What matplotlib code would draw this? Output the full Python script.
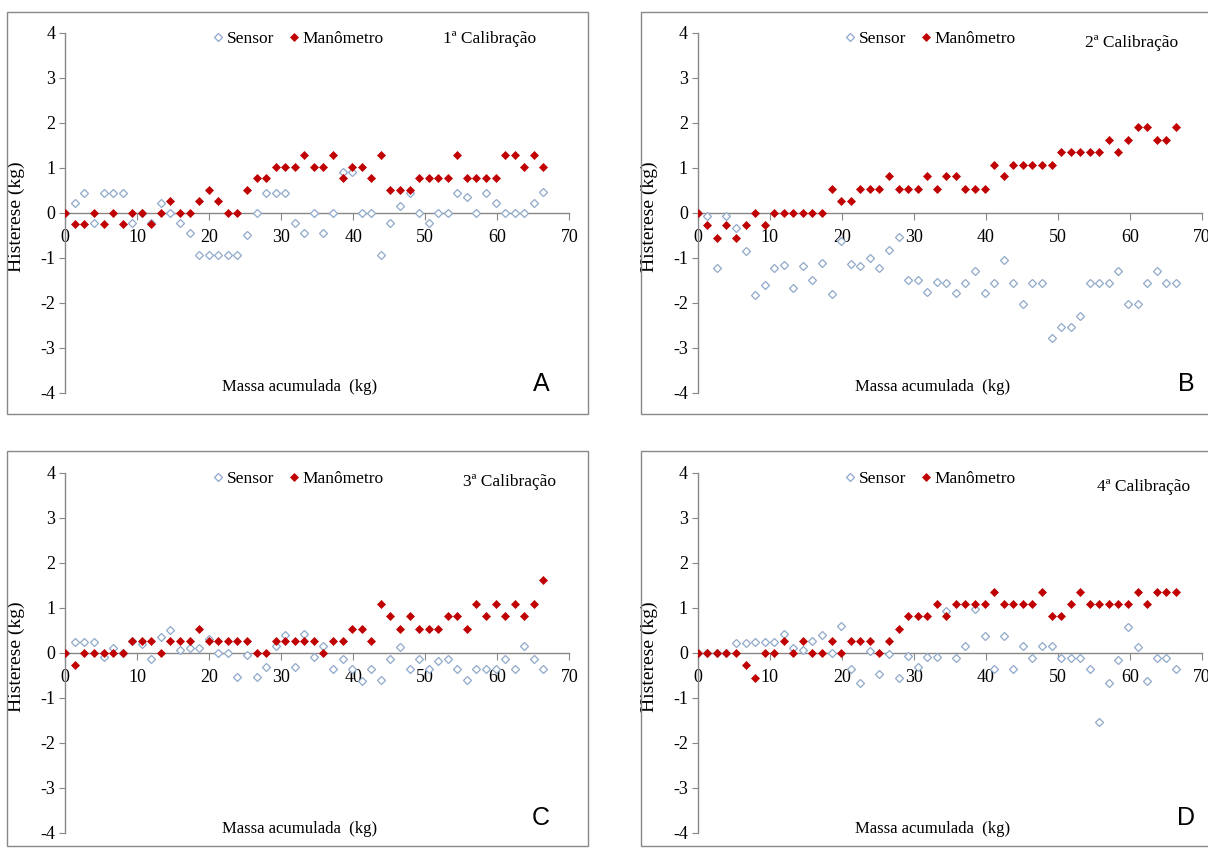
import numpy as np
import matplotlib.pyplot as plt
from matplotlib.patches import Rectangle

# massa acumulada (kg), common to all four calibrations
massa = [0.00, 1.33, 2.66, 3.98, 5.31, 6.64, 7.97, 9.30, 10.62, 11.95,
         13.28, 14.61, 15.94, 17.26, 18.59, 19.92, 21.25, 22.58, 23.90, 25.23,
         26.56, 27.89, 29.22, 30.54, 31.87, 33.20, 34.53, 35.86, 37.18, 38.51,
         39.84, 41.17, 42.50, 43.82, 45.15, 46.48, 47.81, 49.14, 50.46, 51.79,
         53.12, 54.45, 55.78, 57.10, 58.43, 59.76, 61.09, 62.42, 63.74, 65.07,
         66.40]

# histerese (kg) - 1a calibracao
sensor_1 = [0, 0.21, 0.43, -0.23, 0.43, 0.43, 0.43, -0.23, 0, -0.23,
            0.21, 0, -0.23, -0.46, -0.93, -0.93, -0.93, -0.93, -0.93, -0.49,
            0, 0.43, 0.43, 0.43, -0.23, -0.46, 0, -0.46, 0, 0.91,
            0.90, 0, 0, -0.95, -0.23, 0.15, 0.43, 0, -0.23, 0,
            0, 0.44, 0.34, 0, 0.44, 0.21, 0, 0, 0, 0.21,
            0.47]
mano_1 = [0, -0.26, -0.26, 0, -0.26, 0, -0.26, 0, 0, -0.26,
          0, 0.26, 0, 0, 0.26, 0.51, 0.26, 0, 0, 0.51,
          0.77, 0.77, 1.02, 1.02, 1.02, 1.29, 1.02, 1.02, 1.29, 0.77,
          1.02, 1.02, 0.77, 1.29, 0.51, 0.51, 0.51, 0.77, 0.77, 0.77,
          0.77, 1.29, 0.77, 0.77, 0.77, 0.77, 1.29, 1.29, 1.02, 1.29,
          1.02]

# 2a calibracao
sensor_2 = [0, -0.07, -1.24, -0.07, -0.33, -0.85, -1.84, -1.61, -1.24, -1.16,
            -1.67, -1.19, -1.50, -1.11, -1.80, -0.62, -1.14, -1.19, -1.00, -1.24,
            -0.84, -0.54, -1.50, -1.50, -1.76, -1.53, -1.56, -1.78, -1.56, -1.30,
            -1.78, -1.56, -1.06, -1.56, -2.04, -1.56, -1.56, -2.78, -2.55, -2.55,
            -2.30, -1.56, -1.56, -1.56, -1.30, -2.04, -2.04, -1.56, -1.30, -1.56,
            -1.56]
mano_2 = [0, -0.27, -0.56, -0.27, -0.56, -0.27, 0, -0.27, 0, 0,
          0, 0, 0, 0, 0.53, 0.27, 0.27, 0.53, 0.53, 0.53,
          0.81, 0.53, 0.53, 0.53, 0.81, 0.53, 0.81, 0.81, 0.53, 0.53,
          0.53, 1.07, 0.81, 1.07, 1.07, 1.07, 1.07, 1.07, 1.35, 1.35,
          1.35, 1.35, 1.35, 1.62, 1.35, 1.62, 1.90, 1.90, 1.62, 1.62,
          1.90]

# 3a calibracao
sensor_3 = [0, 0.24, 0.24, 0.24, -0.10, 0.10, 0, 0.27, 0.20, -0.15,
            0.35, 0.50, 0.05, 0.10, 0.10, 0.30, 0, 0, -0.53, -0.04,
            -0.53, -0.32, 0.15, 0.40, -0.32, 0.41, -0.10, 0.15, -0.36, -0.14,
            -0.37, -0.62, -0.36, -0.60, -0.14, 0.13, -0.36, -0.14, -0.36, -0.18,
            -0.14, -0.36, -0.60, -0.36, -0.36, -0.36, -0.14, -0.36, 0.15, -0.14,
            -0.36]
mano_3 = [0, -0.27, 0, 0, 0, 0, 0, 0.27, 0.27, 0.27,
          0, 0.27, 0.27, 0.27, 0.53, 0.27, 0.27, 0.27, 0.27, 0.27,
          0, 0, 0.27, 0.27, 0.27, 0.27, 0.27, 0, 0.27, 0.27,
          0.53, 0.53, 0.27, 1.08, 0.81, 0.53, 0.81, 0.53, 0.53, 0.53,
          0.81, 0.81, 0.53, 1.08, 0.81, 1.08, 0.81, 1.08, 0.81, 1.08,
          1.62]

# 4a calibracao
sensor_4 = [0, 0, 0, 0, 0.22, 0.22, 0.24, 0.24, 0.24, 0.42,
            0.10, 0.05, 0.25, 0.40, 0, 0.60, -0.37, -0.67, 0.03, -0.48,
            -0.02, -0.56, -0.07, -0.32, -0.10, -0.10, 0.92, -0.11, 0.14, 0.97,
            0.38, -0.37, 0.38, -0.37, 0.14, -0.11, 0.14, 0.14, -0.11, -0.11,
            -0.11, -0.37, -1.55, -0.67, -0.17, 0.57, 0.13, -0.62, -0.11, -0.11,
            -0.37]
mano_4 = [0, 0, 0, 0, 0, -0.27, -0.56, 0, 0, 0.27,
          0, 0.27, 0, 0, 0.27, 0, 0.27, 0.27, 0.27, 0,
          0.27, 0.53, 0.81, 0.81, 0.81, 1.08, 0.81, 1.08, 1.08, 1.08,
          1.08, 1.36, 1.08, 1.08, 1.08, 1.08, 1.36, 0.81, 0.81, 1.08,
          1.36, 1.08, 1.08, 1.08, 1.08, 1.08, 1.36, 1.08, 1.36, 1.36,
          1.36]

titles = ["1ª Calibração", "2ª Calibração", "3ª Calibração", "4ª Calibração"]
letters = ["A", "B", "C", "D"]

W, H = 1208, 848
fig = plt.figure(figsize=(W / 100, H / 100), dpi=100)
plt.rcParams['font.family'] = ['Liberation Serif', 'DejaVu Serif']
plt.rcParams['axes.unicode_minus'] = False

def frac_rect(x0, y0, x1, y1):
    # pixel box (top-left origin) -> figure fraction [l, b, w, h]
    return [x0 / W, 1 - y1 / H, (x1 - x0) / W, (y1 - y0) / H]

# axes boxes in pixels
boxes = [(65.3, 32.7, 569.3, 392.7), (697.7, 32.7, 1201.7, 392.7),
         (65.3, 472.7, 569.3, 832.7), (697.7, 472.7, 1201.7, 832.7)]
frames = [(7, 12, 588, 414), (641, 12, 1222, 414),
          (7, 451, 588, 846), (641, 451, 1222, 846)]
title_pos = [(52.5, 3.86), (53.8, 3.77), (55.2, 3.80), (55.5, 3.68)]
xlab_y = [-3.87, -3.87, -3.92, -3.92]
letter_y = [-3.81, -3.81, -3.67, -3.67]

gray = '#888888'
blue = '#8FAACB'
red = '#C00000'

series = [(sensor_1, mano_1), (sensor_2, mano_2), (sensor_3, mano_3), (sensor_4, mano_4)]

for k in range(4):
    fx0, fy0, fx1, fy1 = frames[k]
    fig.patches.append(Rectangle((fx0 / W, 1 - fy1 / H), (fx1 - fx0) / W, (fy1 - fy0) / H,
                                 transform=fig.transFigure, fill=False,
                                 edgecolor=gray, linewidth=1.0))

    ax = fig.add_axes(frac_rect(*boxes[k]))
    ax.set_facecolor('none')
    sens, mano = series[k]
    ax.plot(massa, sens, linestyle='none', marker='D', markersize=4.0,
            markerfacecolor='white', markeredgecolor=blue, markeredgewidth=0.9,
            label='Sensor', zorder=3)
    ax.plot(massa, mano, linestyle='none', marker='D', markersize=4.0,
            markerfacecolor=red, markeredgecolor=red, markeredgewidth=0.5,
            label='Manômetro', zorder=4)

    ax.set_xlim(0, 70)
    ax.set_ylim(-4, 4)
    ax.set_xticks(np.arange(0, 71, 10))
    ax.set_yticks(np.arange(-4, 5, 1))
    ax.spines['top'].set_visible(False)
    ax.spines['right'].set_visible(False)
    ax.spines['bottom'].set_position(('data', 0))
    ax.spines['left'].set_position(('data', 0))
    for s in ['bottom', 'left']:
        ax.spines[s].set_color(gray)
        ax.spines[s].set_linewidth(1.0)
    ax.tick_params(axis='x', direction='out', length=5, width=0.8, color=gray,
                   labelsize=13, pad=7)
    ax.tick_params(axis='y', direction='out', length=4, width=0.8, color=gray,
                   labelsize=13, pad=3)

    ax.set_ylabel('Histerese (kg)', fontsize=14)
    ax.yaxis.set_label_coords(-0.079, 0.49)

    ax.text(32.6, xlab_y[k], 'Massa acumulada  (kg)', fontsize=12,
            ha='center', va='center')
    ax.text(title_pos[k][0], title_pos[k][1], titles[k], fontsize=12.5,
            ha='left', va='center')
    ax.text(66.1 if k % 2 == 0 else 67.8, letter_y[k], letters[k],
            fontsize=18, family='Liberation Sans', ha='center', va='center')

    ax.legend(loc='center left', bbox_to_anchor=(0.294, 0.983), ncol=2,
              frameon=False, fontsize=12.5, handlelength=0.5,
              handletextpad=0.25, columnspacing=0.9, borderpad=0,
              borderaxespad=0)

fig.savefig('out.png', dpi=100)
